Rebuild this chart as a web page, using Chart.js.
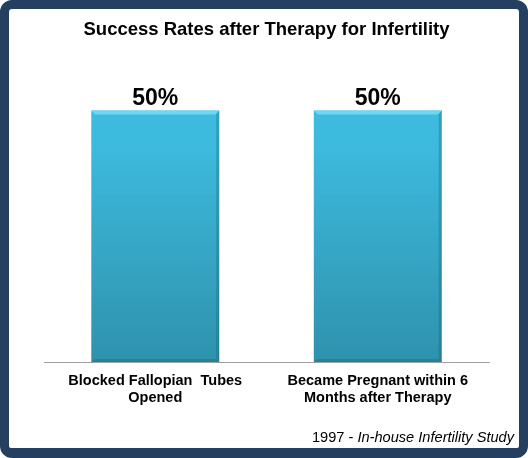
<!DOCTYPE html>
<html>
<head>
<meta charset="utf-8">
<script src="https://cdn.jsdelivr.net/npm/chart.js@4"></script>
<style>
  html, body { margin: 0; padding: 0; background: #fff; }
  .frame {
    position: relative;
    width: 528px; height: 458px;
    box-sizing: border-box;
    border: 9px solid #243f60;
    border-bottom-width: 10px;
    border-radius: 12px;
    background: #fff;
    font-family: "Liberation Sans", Arial, sans-serif;
  }
  .chart-box { position: absolute; left: 0; top: 0; width: 510px; height: 439px; }
  .source {
    position: absolute; right: 5px; bottom: 3px;
    font-size: 14.6px; color: #000;
  }
</style>
</head>
<body>
<div class="frame">
  <div class="chart-box"><canvas id="chart"></canvas></div>
  <div class="source">1997 - <i>In-house Infertility Study</i></div>
</div>
<script>
const categories = [
    ['Blocked Fallopian  Tubes', 'Opened'],
    ['Became Pregnant within 6', 'Months after Therapy']
];
const successRates = [50, 50];
const chartTitle = 'Success Rates after Therapy for Infertility';

// value labels above each bar
const valueLabels = {
    id: 'valueLabels',
    afterDatasetsDraw(chart) {
        let ctx = chart.ctx;
        let meta = chart.getDatasetMeta(0);
        ctx.save();
        ctx.font = 'bold 23px "Liberation Sans", Arial, sans-serif';
        ctx.fillStyle = '#000';
        ctx.textAlign = 'center';
        ctx.textBaseline = 'alphabetic';
        meta.data.forEach((bar, i) => {
            ctx.fillText(successRates[i] + '%', bar.x, bar.y - 6);
        });
        ctx.restore();
    }
};

// light top edge and darker sides, like the bevelled bars in the original
const bevel = {
    id: 'bevel',
    afterDatasetsDraw(chart) {
        let ctx = chart.ctx;
        let meta = chart.getDatasetMeta(0);
        ctx.save();
        meta.data.forEach(bar => {
            let left = bar.x - bar.width / 2, right = bar.x + bar.width / 2;
            let top = bar.y, bottom = bar.base;
            ctx.fillStyle = 'rgba(120,220,245,0.85)';
            ctx.beginPath();
            ctx.moveTo(left, top); ctx.lineTo(right, top);
            ctx.lineTo(right - 4, top + 4); ctx.lineTo(left + 4, top + 4);
            ctx.closePath(); ctx.fill();
            ctx.fillStyle = 'rgba(20,90,110,0.3)';
            ctx.beginPath();
            ctx.moveTo(right, top); ctx.lineTo(right, bottom);
            ctx.lineTo(right - 3, bottom - 3); ctx.lineTo(right - 3, top + 4);
            ctx.closePath(); ctx.fill();
            ctx.beginPath();
            ctx.moveTo(left, bottom); ctx.lineTo(right, bottom);
            ctx.lineTo(right - 3, bottom - 3); ctx.lineTo(left + 3, bottom - 3);
            ctx.closePath(); ctx.fill();
        });
        ctx.restore();
    }
};

function barGradient(context) {
    let area = context.chart.chartArea;
    if (!area) return '#38acd0';
    let g = context.chart.ctx.createLinearGradient(0, area.top, 0, area.bottom);
    g.addColorStop(0, '#41c0e4');
    g.addColorStop(0.3, '#3cb9dc');
    g.addColorStop(1, '#2e92ac');
    return g;
}

let ctx = document.getElementById('chart').getContext('2d');
let chart = new Chart(ctx, {
    type: 'bar',
    data: {
        labels: categories,
        datasets: [{
            data: successRates,
            backgroundColor: barGradient,
            borderWidth: 0,
            categoryPercentage: 0.575,
            barPercentage: 1.0
        }]
    },
    options: {
        responsive: true,
        maintainAspectRatio: false,
        animation: false,
        layout: { padding: { left: 35, right: 30, top: 0, bottom: 40 } },
        plugins: {
            legend: { display: false },
            tooltip: { enabled: false },
            title: {
                display: true,
                text: chartTitle,
                color: '#000',
                font: { family: '"Liberation Sans", Arial, sans-serif', size: 18.5, weight: 'bold' },
                padding: { top: 10, bottom: 19 }
            }
        },
        scales: {
            x: {
                grid: { display: false },
                border: { display: true, color: '#a0a0a0', width: 1 },
                ticks: {
                    color: '#000',
                    padding: 2,
                    maxRotation: 0,
                    font: { family: '"Liberation Sans", Arial, sans-serif', size: 14.5, weight: 'bold', lineHeight: 1.17 }
                }
            },
            y: {
                display: false,
                min: 0,
                max: 60
            }
        }
    },
    plugins: [valueLabels, bevel]
});
</script>
</body>
</html>
